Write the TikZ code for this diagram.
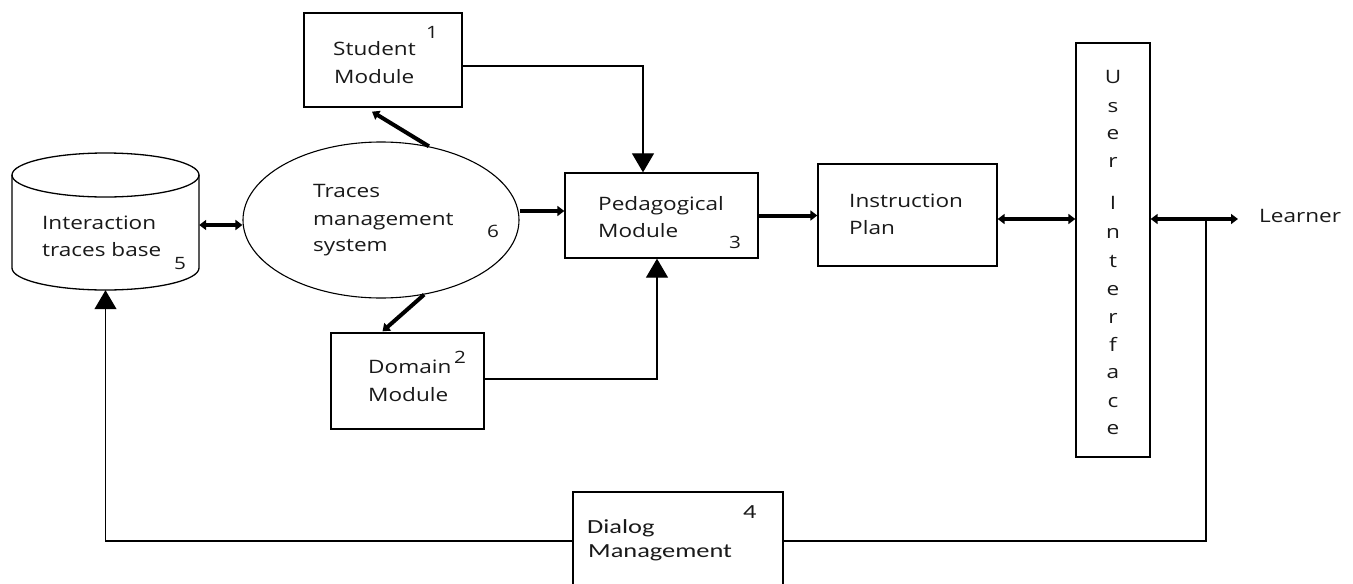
\documentclass[tikz,border=0pt]{standalone}
\usepackage{fontspec}
\setmainfont{Open Sans}[FakeStretch=1.22]
\newfontfamily\dlgfont{Carlito}[FakeStretch=1.32]
\usetikzlibrary{arrows.meta,calc,shapes.geometric}
\tikzset{
  box/.style={draw, line width=1.3pt, inner sep=0pt},
  txt/.style={anchor=base west, inner sep=0pt, text=black!90, font=\fontsize{18.5}{22}\selectfont},
  numtxt/.style={anchor=base west, inner sep=0pt, text=black!90, font=\fontsize{17}{20}\selectfont},
  dtxt/.style={anchor=base west, inner sep=0pt, text=black!90, font=\dlgfont\fontsize{20}{24}\selectfont},
  uitxt/.style={anchor=base, inner sep=0pt, text=black!90, font=\fontsize{18.5}{22}\selectfont},
  thinline/.style={line width=1.2pt},
  tri/.style={-{Triangle[width=22pt,length=19pt]}},
  thk/.style={line width=4pt, -{Triangle[width=10pt,length=7pt]}},
  dthk/.style={line width=4pt, {Triangle[width=10pt,length=7pt]}-{Triangle[width=10pt,length=7pt]}},
}
\begin{document}
\begin{tikzpicture}[x=1pt,y=-1pt]
\useasboundingbox (0,0) rectangle (1353,584);
\clip (0,0) rectangle (1353,584);
% cylinder
\node[minimum width=187pt, minimum height=137pt, inner sep=0pt] (cyl) at (105.5,221.5) {};
\draw[line width=1.3pt] (105.5,175) ellipse [x radius=93.5pt, y radius=22pt];
\draw[line width=1.3pt] (12,175) -- (12,268) arc[start angle=180, end angle=360, x radius=93.5pt, y radius=22pt] -- (199,175);
% ellipse
\node[draw, ellipse, line width=1.1pt, minimum width=276pt, minimum height=156pt, inner sep=0pt] (ell) at (381,220) {};
% boxes
\node[box, minimum width=158pt, minimum height=94pt] (stu) at (383,60) {};
\node[box, minimum width=193pt, minimum height=85pt] (ped) at (661.5,215.5) {};
\node[box, minimum width=179pt, minimum height=102pt] (ins) at (907.5,215) {};
\node[box, minimum width=74pt, minimum height=414pt] (ui) at (1113,250) {};
\node[box, minimum width=153pt, minimum height=96pt] (dom) at (407.5,381) {};
\node[box, minimum width=210pt, minimum height=98pt] (dlg) at (678,541) {};
% texts
\node[txt] (t1) at (42,229) {Interaction};
\node[txt] (t2) at (42,256) {traces base};
\node[numtxt] (n5) at (174,269) {5};
\node[txt] (t3) at (313,197) {Traces};
\node[txt] (t4) at (313,225) {management};
\node[txt] (t5) at (313,251) {system};
\node[numtxt] (n6) at (487,237) {6};
\node[txt] (t6) at (333,55) {Student};
\node[txt] (t7) at (334,83) {Module};
\node[numtxt] (n1) at (426,38) {1};
\node[txt] (t8) at (598,210) {Pedagogical};
\node[txt] (t9) at (598,237) {Module};
\node[numtxt] (n3) at (729,248) {3};
\node[txt] (t10) at (849,207) {Instruction};
\node[txt] (t11) at (849,234) {Plan};
\node[txt] (t12) at (368,373) {Domain};
\node[txt] (t13) at (368,401) {Module};
\node[numtxt] (n2) at (454,363) {2};
\node[dtxt] (t14) at (587,533) {Dialog};
\node[dtxt] (t15) at (588,557) {Management};
\node[dtxt] (n4) at (743,518) {4};
\node[txt] (lrn) at (1259,222) {Learner};
\foreach \ch/\yy [count=\i] in {U/83,s/112,e/139,r/167,I/209,n/238,t/267,e/295,r/323,f/351,a/378,c/407,e/434}
  \node[uitxt] (ui\i) at (1113,\yy) {\ch};
% coordinates
\coordinate (j) at (1206,219);
\coordinate (le) at (1238,219);
% connectors
\draw[dthk] ([yshift=-3.5pt]cyl.east) -- ([yshift=-3.5pt]cyl.east -| ell.west);
\draw[thk] (ell.57) -- ($(stu.south)+(-11,4)$);
\draw[thk] (ell.-60) -- ($(dom.north)+(-25,-1)$);
\draw[thk] ([yshift=4.5pt]ped.west -| ell.east) -- ([yshift=4.5pt]ped.west);
\draw[thk] (ped.east) -- (ped.east -| ins.west);
\draw[dthk] (ins.east |- j) -- (ui.west |- j);
\draw[dthk] (ui.east |- j) -- (le);
\draw[thinline, tri] ([yshift=-6pt]stu.east) -| ([xshift=-18.5pt]ped.north);
\draw[thinline, tri] ([yshift=2pt]dom.east) -| ([xshift=-4.5pt]ped.south);
\draw[thinline] (j) |- (dlg.east);
\draw[thinline, tri] (dlg.west) -| (cyl.south);
\end{tikzpicture}
\end{document}
